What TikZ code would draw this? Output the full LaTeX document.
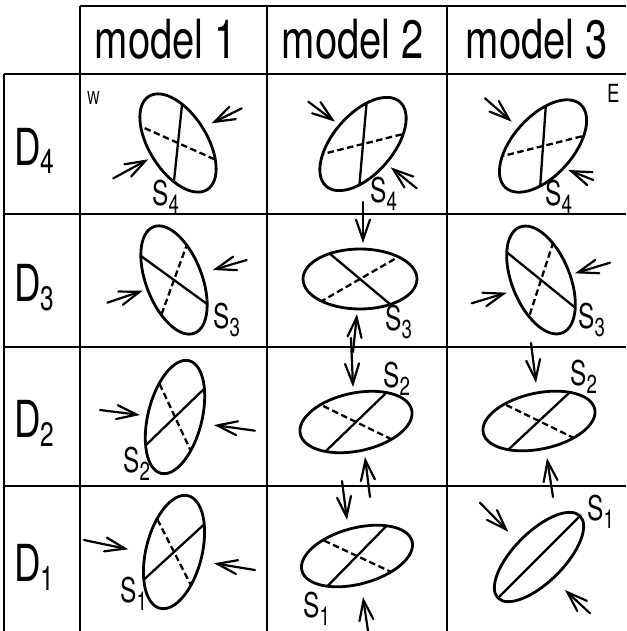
\documentclass[tikz,border=0pt]{standalone}
\usepackage{fontspec}
\setmainfont{TeX Gyre Heros}
\usepackage{graphicx}
\usetikzlibrary{arrows.meta}
% letter with subscript: size, subsize, drop, letter, digit
\newcommand\subl[5]{\scalebox{0.72}[1]{\fontsize{#1}{#1}\selectfont #4\raisebox{-#3pt}{\fontsize{#2}{#2}\selectfont #5}}}
\newcommand\plain[2]{\scalebox{0.74}[1]{\fontsize{#1}{#1}\selectfont #2}}
% ellipse: cx, cy(image), a, b, tilt, solid chord angle, dashed chord angle
\newcommand\strainell[7]{%
  \begin{scope}[shift={(#1,-#2)}]
    \begin{scope}
      \clip[rotate=#5] (0,0) ellipse ({#3} and {#4});
      \draw[chord] (#6:90) -- ({#6+180}:90);
      \draw[dchord] (#7:90) -- ({#7+180}:90);
    \end{scope}
    \draw[rim, rotate=#5] (0,0) ellipse ({#3} and {#4});
  \end{scope}}
\newcommand\strainellsolid[6]{%
  \begin{scope}[shift={(#1,-#2)}]
    \begin{scope}
      \clip[rotate=#5] (0,0) ellipse ({#3} and {#4});
      \draw[chord] (#6:90) -- ({#6+180}:90);
    \end{scope}
    \draw[rim, rotate=#5] (0,0) ellipse ({#3} and {#4});
  \end{scope}}
\begin{document}
\begin{tikzpicture}[x=1pt,y=1pt,
  gridline/.style={line width=2.4pt},
  rim/.style={line width=2.8pt},
  chord/.style={line width=2.3pt},
  dchord/.style={chord, dash pattern=on 6.5pt off 3.5pt},
  arr/.style={line width=2.2pt, line cap=round, -{Straight Barb[length=20pt,width=14pt,line cap=round]}},
  lab/.style={anchor=base west, inner sep=0pt}]
\useasboundingbox[fill=white] (0,0) rectangle (626,-631);

% grid
\draw[gridline] (80,-6) -- (626,-6);
\draw[gridline] (4,-74) -- (626,-74);
\draw[gridline] (4,-214) -- (626,-214);
\draw[gridline] (4,-347) -- (626,-347);
\draw[gridline] (4,-486) -- (626,-486);
\draw[gridline] (4,-74) -- (4,-631);
\draw[gridline] (80,-6) -- (80,-631);
\draw[gridline] (267,-6) -- (267,-631);
\draw[gridline] (447,-6) -- (447,-631);

% header
\node[anchor=base] (h1) at (166,-59) {\plain{54}{model 1}};
\node[anchor=base] (h2) at (353,-59) {\plain{54}{model 2}};
\node[anchor=base] (h3) at (537,-59) {\plain{54}{model 3}};

% row labels
\node[lab] (d4) at (14,-165) {\subl{51}{34}{9}{D}{4}};
\node[lab] (d3) at (14,-301) {\subl{51}{34}{9}{D}{3}};
\node[lab] (d2) at (14,-437) {\subl{51}{34}{9}{D}{2}};
\node[lab] (d1) at (14,-581) {\subl{51}{34}{9}{D}{1}};

\node[lab] (w) at (87,-105) {\plain{18}{W}};
\node[lab] (e) at (607,-103) {\plain{25}{E}};

% ellipses
\strainell{178}{143}{55}{29}{-58}{84}{-24}
\strainell{363}{144}{56}{30}{49}{85}{14}
\strainell{543}{146}{56}{30}{48}{86}{14}
\strainell{174}{280}{57}{28}{-69}{-36}{70}
\strainell{360}{279}{57}{30}{0}{-40}{30}
\strainell{541}{280}{57}{29}{-68}{-39}{72}
\strainell{175}{417}{58}{27}{76}{44}{-65}
\strainell{356}{422}{57}{29}{12}{44}{-26}
\strainell{539}{421}{57}{28}{12}{43}{-26}
\strainell{174}{552}{58}{28}{76}{42.5}{-63}
\strainell{357}{556}{57}{28}{15}{45.5}{-25}
\strainellsolid{539}{557}{58}{25}{45}{45}

% S labels
\node[lab] (s41) at (152,-205) {\subl{34}{26}{8}{S}{4}};
\node[lab] (s42) at (370,-202) {\subl{34}{26}{8}{S}{4}};
\node[lab] (s43) at (545,-205) {\subl{34}{26}{8}{S}{4}};
\node[lab] (s31) at (213,-328) {\subl{34}{26}{8}{S}{3}};
\node[lab] (s32) at (385,-330) {\subl{34}{26}{8}{S}{3}};
\node[lab] (s33) at (578,-328) {\subl{34}{26}{8}{S}{3}};
\node[lab] (s21) at (123,-472) {\subl{34}{26}{8}{S}{2}};
\node[lab] (s22) at (383,-387) {\subl{34}{26}{8}{S}{2}};
\node[lab] (s23) at (570,-385) {\subl{34}{26}{8}{S}{2}};
\node[lab] (s11) at (120,-602) {\subl{34}{26}{8}{S}{1}};
\node[lab] (s12) at (303,-617) {\subl{34}{26}{8}{S}{1}};
\node[lab] (s13) at (587,-520) {\subl{34}{26}{8}{S}{1}};

% arrows
\draw[arr] (241.7,-108.3) -- (211.7,-123.3);
\draw[arr] (113.3,-178.3) -- (148.3,-159.3);
\draw[arr] (308.3,-101.7) -- (335,-121.7);
\draw[arr] (416.7,-188.3) -- (390.7,-167.3);
\draw[arr] (485,-98.3) -- (511.7,-121.7);
\draw[arr] (593.3,-180) -- (568.3,-170);

\draw[arr] (246.7,-260) -- (212.7,-270);
\draw[arr] (107.3,-302.7) -- (142.7,-290.7);
\draw[arr] (363,-202) -- (363,-243);
\draw[arr] (353,-352) -- (357,-314);
\draw[arr] (610,-262.7) -- (575,-273.3);
\draw[arr] (471.7,-303.3) -- (506.7,-292.7);

\draw[arr] (100,-410) -- (140,-415);
\draw[arr] (255,-430.7) -- (214,-425);
\draw[arr] (351,-338) -- (353,-387);
\draw[arr] (370,-497) -- (365,-457);
\draw[arr] (531,-343) -- (536,-383);
\draw[arr] (553,-497) -- (547,-458);

\draw[arr] (84,-540) -- (128.3,-549.3);
\draw[arr] (255,-570) -- (214,-563.3);
\draw[arr] (342,-481) -- (347,-520);
\draw[arr] (368,-631) -- (363,-597);
\draw[arr] (480,-502.7) -- (508.3,-531.7);
\draw[arr] (590,-613.3) -- (565,-590);
\end{tikzpicture}
\end{document}
